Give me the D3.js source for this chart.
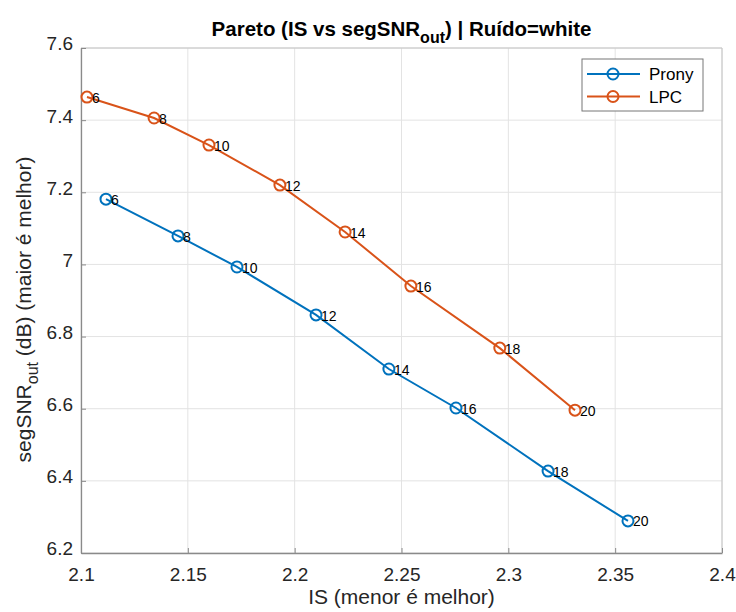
<!DOCTYPE html>
<html>
<head>
<meta charset="utf-8">
<script src="https://cdn.jsdelivr.net/npm/d3@7"></script>
<style>
  body { margin: 0; background: #fff; }
  text { font-family: "Liberation Sans", Arial, sans-serif; }
</style>
</head>
<body>
<div id="graphic"></div>
<script>
// ordem do modelo (rótulos dos pontos)
var orders = [6, 8, 10, 12, 14, 16, 18, 20];
var pronyIS = [2.1117, 2.1454, 2.1730, 2.2100, 2.2441, 2.2755, 2.3186, 2.3560];
var pronySNR = [7.181, 7.079, 6.993, 6.860, 6.710, 6.602, 6.427, 6.289];
var lpcIS = [2.1028, 2.1342, 2.1599, 2.1931, 2.2236, 2.2544, 2.2960, 2.3312];
var lpcSNR = [7.464, 7.406, 7.331, 7.220, 7.090, 6.940, 6.768, 6.596];
var xTicks = [2.1, 2.15, 2.2, 2.25, 2.3, 2.35, 2.4];
var yTicks = [6.2, 6.4, 6.6, 6.8, 7, 7.2, 7.4, 7.6];

var graphic = {};

graphic.create = function() {
  var width = 736, height = 612;
  var m = {left: 81, right: 14, top: 48, bottom: 59};
  var svg = d3.select("#graphic").append("svg").attr("width", width).attr("height", height);

  var x = d3.scaleLinear().domain([2.1, 2.4]).range([m.left, width - m.right]);
  var y = d3.scaleLinear().domain([6.2, 7.6]).range([height - m.bottom, m.top]);

  // grade
  var grid = svg.append("g");
  grid.selectAll("line.gx").data(xTicks).enter().append("line")
    .attr("x1", function(d) { return x(d); }).attr("x2", function(d) { return x(d); })
    .attr("y1", y(6.2)).attr("y2", y(7.6))
    .attr("stroke", "#e3e3e3").attr("stroke-width", 1);
  grid.selectAll("line.gy").data(yTicks).enter().append("line")
    .attr("y1", function(d) { return y(d); }).attr("y2", function(d) { return y(d); })
    .attr("x1", x(2.1)).attr("x2", x(2.4))
    .attr("stroke", "#e3e3e3").attr("stroke-width", 1);

  // moldura superior/direita
  svg.append("path")
    .attr("d", "M" + x(2.1) + "," + y(7.6) + "H" + x(2.4) + "V" + y(6.2))
    .attr("fill", "none").attr("stroke", "#c4c4c4").attr("stroke-width", 1);

  var xAxis = d3.axisBottom(x).tickValues(xTicks).tickSizeInner(-5).tickSizeOuter(0)
    .tickPadding(15).tickFormat(d3.format("~g"));
  var yAxis = d3.axisLeft(y).tickValues(yTicks).tickSizeInner(-5).tickSizeOuter(0)
    .tickPadding(8).tickFormat(d3.format("~g"));

  var gx = svg.append("g").attr("transform", "translate(0," + y(6.2) + ")").call(xAxis);
  var gy = svg.append("g").attr("transform", "translate(" + x(2.1) + ",0)").call(yAxis);
  [gx, gy].forEach(function(g) {
    g.select(".domain").attr("stroke", "#8a8a8a").attr("stroke-width", 1.3);
    g.selectAll(".tick line").attr("stroke", "#8a8a8a");
    g.selectAll(".tick text").attr("fill", "#262626").style("font-size", "19px")
      .style("font-family", "'Liberation Sans', Arial, sans-serif");
  });
  gy.selectAll(".tick text").attr("dy", "0.1em");

  var series = [
    {name: "Prony", xs: pronyIS, ys: pronySNR, color: "#0072BD"},
    {name: "LPC", xs: lpcIS, ys: lpcSNR, color: "#D95319"}
  ];
  var line = d3.line().x(function(d) { return x(d.x); }).y(function(d) { return y(d.y); });

  series.forEach(function(s) {
    var pts = orders.map(function(o, i) { return {x: s.xs[i], y: s.ys[i], o: o}; });
    svg.append("path").datum(pts).attr("d", line)
      .attr("fill", "none").attr("stroke", s.color).attr("stroke-width", 2);
    svg.selectAll(null).data(pts).enter().append("circle")
      .attr("cx", function(d) { return x(d.x); }).attr("cy", function(d) { return y(d.y); })
      .attr("r", 5.5).attr("fill", "none").attr("stroke", s.color).attr("stroke-width", 2);
    svg.selectAll(null).data(pts).enter().append("text")
      .attr("x", function(d) { return x(d.x) + 5; }).attr("y", function(d) { return y(d.y); })
      .attr("dy", "0.4em").style("font-size", "14px").attr("fill", "#000")
      .text(function(d) { return d.o; });
  });

  // legenda
  var lg = svg.append("g").attr("transform", "translate(582,59)");
  lg.append("rect").attr("width", 121).attr("height", 52)
    .attr("fill", "#fff").attr("stroke", "#777").attr("stroke-width", 1);
  series.forEach(function(s, i) {
    var yy = 15 + i * 22.5;
    lg.append("line").attr("x1", 5).attr("x2", 58).attr("y1", yy).attr("y2", yy)
      .attr("stroke", s.color).attr("stroke-width", 2);
    lg.append("circle").attr("cx", 31).attr("cy", yy).attr("r", 5.5)
      .attr("fill", "none").attr("stroke", s.color).attr("stroke-width", 2);
    lg.append("text").attr("x", 67).attr("y", yy).attr("dy", "0.36em")
      .style("font-size", "17px").attr("fill", "#000").text(s.name);
  });

  // título
  var t = svg.append("text").attr("x", (x(2.1) + x(2.4)) / 2).attr("y", 36)
    .attr("text-anchor", "middle").style("font-size", "20.5px").style("font-weight", "bold")
    .attr("fill", "#000");
  t.append("tspan").text("Pareto (IS vs segSNR");
  t.append("tspan").attr("dy", 7).style("font-size", "16px").text("out");
  t.append("tspan").attr("dy", -7).text(") | Ruído=white");

  // rótulos dos eixos
  svg.append("text").attr("x", (x(2.1) + x(2.4)) / 2).attr("y", 604)
    .attr("text-anchor", "middle").style("font-size", "21px").attr("fill", "#262626")
    .text("IS (menor é melhor)");

  var yl = svg.append("text").attr("transform", "translate(31," + (y(6.9) + 9) + ") rotate(-90)")
    .attr("text-anchor", "middle").style("font-size", "21px").attr("fill", "#262626");
  yl.append("tspan").text("segSNR");
  yl.append("tspan").attr("dy", 7).style("font-size", "16px").text("out");
  yl.append("tspan").attr("dy", -7).text(" (dB) (maior é melhor)");
};

graphic.create();
</script>
</body>
</html>
